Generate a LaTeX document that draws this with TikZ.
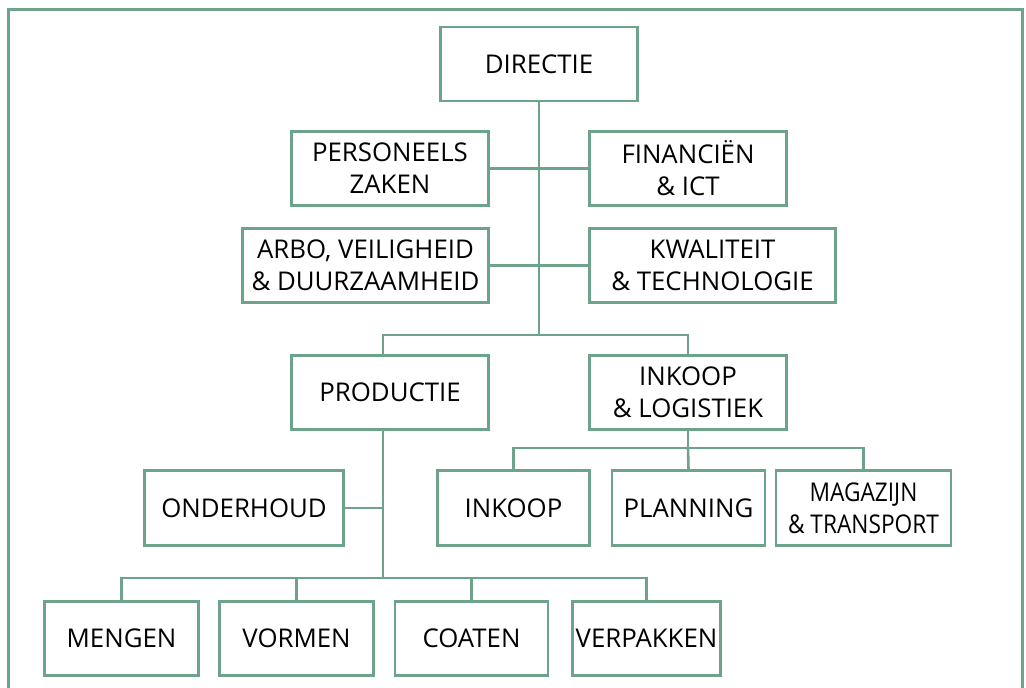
\documentclass[tikz,border=0pt]{standalone}
\usepackage{fontspec}
\setmainfont{Open Sans}
\usepackage{tikz}
\usetikzlibrary{calc}
\definecolor{orggreen}{RGB}{108,163,138}

\begin{document}
\begin{tikzpicture}[x=1pt,y=-1pt,line width=2.6pt,
                    node distance=175pt,font=\fontsize{25.8}{32}\selectfont]
  \tikzstyle{every node}=[text=black]
  \tikzstyle{unit}=[draw=orggreen,fill=white,rectangle,align=center,inner sep=0pt,
                    minimum width=197pt,minimum height=74pt]
  \tikzstyle{tie}=[draw=orggreen]

  \useasboundingbox (0,0) rectangle (1026,688);
  \draw[tie,line width=2.4pt] (8.5,690) -- (8.5,9.5) -- (1022.5,9.5) -- (1022.5,690);

  \node[unit]                      (DIR)  at (539,64)     {DIRECTIE};
  \node[unit]                      (PZ)   at (390,168.5)  {PERSONEELS\\ZAKEN};
  \node[unit]                      (FIN)  at (688,168.5)  {FINANCIËN\\\& ICT};
  \node[unit,minimum width=246pt]  (ARBO) at (365.5,265.5){ARBO, VEILIGHEID\\\& DUURZAAMHEID};
  \node[unit,minimum width=246pt]  (KWAL) at (712.5,265.5){KWALITEIT\\\& TECHNOLOGIE};
  \node[unit]                      (PROD) at (390,392.5)  {PRODUCTIE};
  \node[unit]                      (INKL) at (688,392.5)  {INKOOP\\\& LOGISTIEK};
  \node[unit,minimum width=199pt,minimum height=75pt] (OND)  at (244,508)  {ONDERHOUD};
  \node[unit,minimum width=152pt,minimum height=75pt] (INK)  at (513.5,508) {INKOOP};
  \node[unit,minimum width=153pt,minimum height=75pt] (PLAN) [right of=INK]  {PLANNING};
  \node[unit,minimum width=175pt,minimum height=75pt]
        (MAG)  [right of=PLAN] {\scalebox{0.88}[1]{MAGAZIJN}\\\scalebox{0.88}[1]{\& TRANSPORT}};
  \node[unit,minimum width=154pt]  (MENG) at (121.5,638.5) {MENGEN};
  \node[unit,minimum width=154pt]  (VORM) [right of=MENG] {VORMEN};
  \node[unit,minimum width=153pt]  (COAT) [right of=VORM] {COATEN};
  \node[unit,minimum width=148pt]  (VERP) [right of=COAT] {VERPAKKEN};

  \coordinate (hub)     at (DIR.south |- 0,335);
  \coordinate (prodhub) at ($(PROD.south)+(-7,0)$);
  \coordinate (prodbar) at (prodhub |- 0,578);
  \coordinate (inkbar)  at (INKL.south |- 0,448);

  \path[tie] (PZ)   edge (FIN)
             (ARBO) edge (KWAL)
             (DIR)  edge (hub);

  \draw[tie] (PROD.north -| prodhub) |- (hub) -| (INKL.north);
  \draw[tie] (prodhub) -- (prodbar);
  \draw[tie] (OND.east) -- (OND.east -| prodhub);
  \draw[tie] (INKL.south) -- (inkbar);
  \draw[tie] (INK.north) |- (inkbar) -| (MAG.north);
  \draw[tie] (inkbar) -- (PLAN.north);
  \draw[tie] (MENG.north) |- (prodbar) -| (VERP.north);
  \draw[tie] (VORM.north) -- (VORM.north |- prodbar);
  \draw[tie] (COAT.north) -- (COAT.north |- prodbar);
\end{tikzpicture}
\end{document}
